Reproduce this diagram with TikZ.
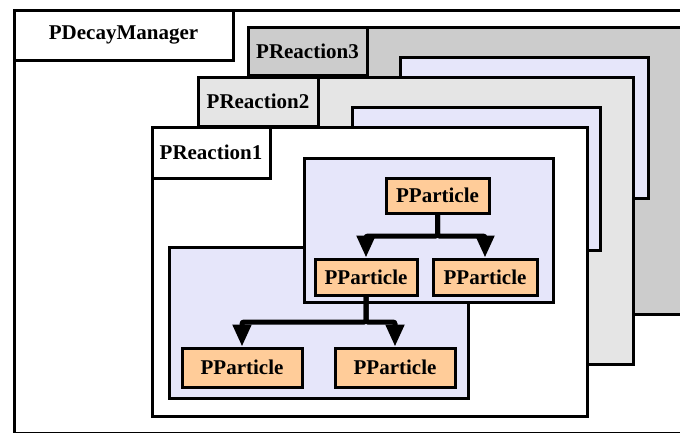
\documentclass[tikz,border=0pt]{standalone}
\usepackage{fontspec}
\setmainfont{Liberation Serif}
\usetikzlibrary{arrows.meta}

\definecolor{layerdark}{RGB}{204,204,204}
\definecolor{layerlight}{RGB}{229,229,229}
\definecolor{groupblue}{RGB}{230,230,250}
\definecolor{partorange}{RGB}{255,204,153}

\tikzset{
  frame/.style={draw=black, line width=3pt},
  tag/.style={frame, inner sep=0pt, font=\fontsize{21}{25}\selectfont\bfseries},
  particle/.style={frame, fill=partorange, inner sep=0pt,
    font=\fontsize{21}{25}\selectfont\bfseries},
  conn/.style={draw=black, line width=5pt, rounded corners=2pt,
    -{Triangle[width=18pt,length=22pt]}},
}

\begin{document}
\begin{tikzpicture}[x=1pt, y=-1pt]
  \useasboundingbox (0,0) rectangle (680,432);
  \clip (0,0) rectangle (680,432);

  % manager frame
  \draw[frame, fill=white] (14,10) rectangle (700,433);
  \node[tag, fill=white, minimum width=219pt, minimum height=50pt] (mgr) at (123.5,35) {PDecayManager};

  % reaction 3
  \draw[frame, fill=layerdark] (248,27) rectangle (700,314);
  \node[tag, fill=layerdark, minimum width=119pt, minimum height=48pt] (r3) at (307.5,51) {PReaction3};
  \draw[frame, fill=groupblue] (400,57) rectangle (648,198);

  % reaction 2
  \draw[frame, fill=layerlight] (198,77) rectangle (633,364);
  \node[tag, fill=layerlight, minimum width=120pt, minimum height=49pt] (r2) at (258,101.5) {PReaction2};
  \draw[frame, fill=groupblue] (352,107) rectangle (600,250);

  % reaction 1
  \draw[frame, fill=white] (152,127) rectangle (587,416);
  \node[tag, fill=white, minimum width=118pt, minimum height=51pt] (r1) at (211,152.5) {PReaction1};

  % decay groups
  \draw[frame, fill=groupblue] (169,247) rectangle (468,398);
  \draw[frame, fill=groupblue] (304,158) rectangle (553,302);

  % particles
  \node[particle, minimum width=103pt, minimum height=35pt] (p0) at (437.5,195.5) {PParticle};
  \node[particle, minimum width=102pt, minimum height=36pt] (p1) at (366,277) {PParticle};
  \node[particle, minimum width=104pt, minimum height=36pt] (p2) at (485,277) {PParticle};
  \node[particle, minimum width=120pt, minimum height=39pt] (p3) at (242,367.5) {PParticle};
  \node[particle, minimum width=120pt, minimum height=39pt] (p4) at (395,367.5) {PParticle};

  % decay arrows
  \draw[conn] (p0.south) -- ++(0,21.5) -| (p1.north);
  \draw[conn] (p0.south) -- ++(0,21.5) -| (p2.north);
  \draw[conn] (p1.south) -- ++(0,25.5) -| (p3.north);
  \draw[conn] (p1.south) -- ++(0,25.5) -| (p4.north);
\end{tikzpicture}
\end{document}
